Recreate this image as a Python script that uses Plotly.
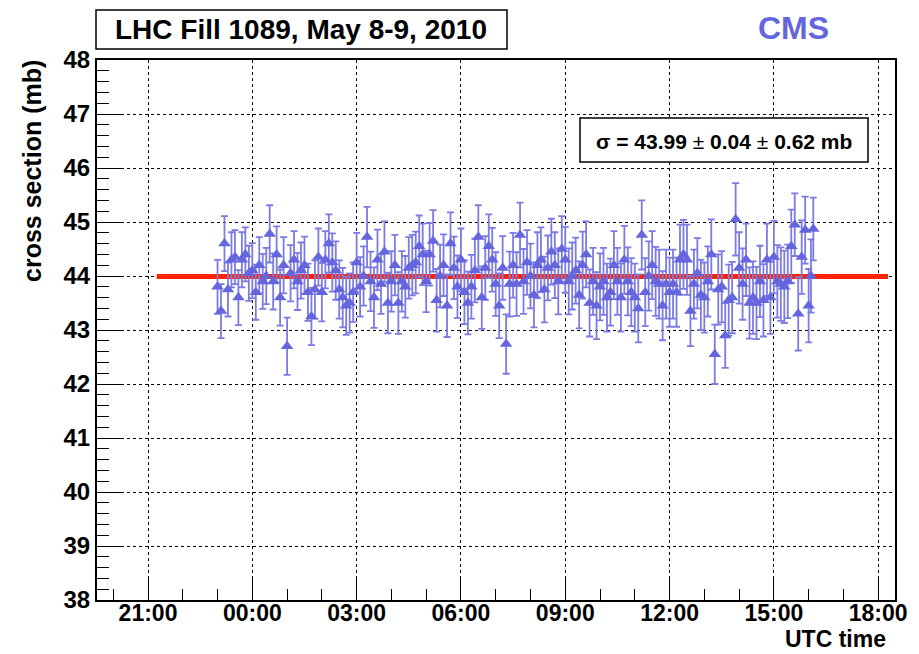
import plotly.graph_objects as go

# Hourly blocks of measurements (6-minute samples), 23:00 on 8 May to 16:08 on 9 May
hours = ["23", "00", "01", "02", "03", "04", "05", "06", "07", "08",
         "09", "10", "11", "12", "13", "14", "15", "16"]
minutes = ["00", "06", "12", "18", "24", "30", "36", "42", "48", "54"]
last_minutes = ["00", "04", "08"]

xsec_rows = [
    [43.80, 43.35, 44.60, 43.75, 44.30, 44.35, 43.60, 44.30, 44.40, 44.05],
    [44.10, 43.70, 44.20, 43.90, 44.00, 44.78, 43.90, 44.40, 43.60, 44.20],
    [42.70, 44.05, 44.30, 43.90, 44.10, 44.20, 43.70, 43.25, 43.75, 44.35],
    [43.70, 44.30, 44.60, 44.25, 44.10, 43.75, 43.60, 43.45, 43.50, 43.70],
    [44.25, 43.80, 44.00, 44.72, 43.90, 43.60, 44.30, 43.85, 44.45, 43.50],
    [43.90, 44.20, 43.50, 43.90, 43.80, 44.15, 44.20, 44.25, 44.55, 44.40],
    [43.90, 44.40, 44.65, 43.55, 44.00, 44.20, 43.45, 44.60, 44.15, 43.80],
    [44.30, 43.70, 43.50, 43.80, 44.10, 44.72, 43.60, 44.15, 44.55, 44.30],
    [43.85, 43.45, 44.15, 42.74, 43.85, 44.20, 43.85, 44.76, 43.90, 44.25],
    [44.00, 43.65, 44.20, 44.30, 43.75, 44.15, 44.45, 44.20, 43.90, 44.50],
    [44.30, 43.90, 44.00, 44.10, 43.65, 44.20, 44.40, 43.50, 43.90, 43.45],
    [43.80, 43.90, 43.60, 43.70, 44.20, 43.90, 43.60, 44.30, 43.90, 43.70],
    [43.60, 43.40, 44.76, 43.70, 44.00, 44.20, 43.90, 43.85, 43.45, 43.85],
    [43.70, 43.85, 43.70, 44.30, 44.40, 44.30, 43.35, 43.85, 44.05, 43.65],
    [43.60, 43.90, 44.40, 42.55, 43.75, 43.80, 42.90, 43.55, 43.60, 45.05],
    [44.15, 43.85, 44.30, 43.50, 43.60, 43.50, 43.90, 43.55, 44.30, 43.60],
    [44.35, 43.90, 43.85, 43.80, 43.90, 44.55, 44.95, 43.30, 44.35, 44.85],
    [43.45, 44.00, 44.87],
]

err_rows = [
    [0.50, 0.50, 0.51, 0.50, 0.51, 0.50, 0.51, 0.51, 0.50, 0.51],
    [0.51, 0.51, 0.52, 0.51, 0.52, 0.53, 0.52, 0.52, 0.52, 0.52],
    [0.53, 0.52, 0.53, 0.53, 0.52, 0.53, 0.53, 0.53, 0.54, 0.53],
    [0.54, 0.53, 0.54, 0.54, 0.54, 0.54, 0.55, 0.54, 0.55, 0.55],
    [0.55, 0.55, 0.55, 0.56, 0.55, 0.56, 0.56, 0.55, 0.56, 0.56],
    [0.56, 0.56, 0.57, 0.56, 0.57, 0.57, 0.56, 0.57, 0.57, 0.57],
    [0.57, 0.58, 0.57, 0.58, 0.58, 0.57, 0.58, 0.58, 0.58, 0.58],
    [0.58, 0.59, 0.58, 0.59, 0.59, 0.59, 0.58, 0.59, 0.59, 0.59],
    [0.59, 0.60, 0.59, 0.55, 0.60, 0.60, 0.59, 0.60, 0.60, 0.60],
    [0.60, 0.60, 0.61, 0.60, 0.61, 0.60, 0.61, 0.61, 0.61, 0.61],
    [0.61, 0.61, 0.62, 0.61, 0.62, 0.62, 0.61, 0.62, 0.62, 0.62],
    [0.62, 0.62, 0.63, 0.62, 0.63, 0.62, 0.63, 0.63, 0.63, 0.63],
    [0.63, 0.63, 0.64, 0.63, 0.64, 0.63, 0.64, 0.64, 0.64, 0.64],
    [0.64, 0.64, 0.64, 0.65, 0.64, 0.65, 0.65, 0.64, 0.65, 0.65],
    [0.65, 0.65, 0.65, 0.55, 0.65, 0.66, 0.60, 0.66, 0.66, 0.67],
    [0.66, 0.66, 0.67, 0.66, 0.67, 0.67, 0.66, 0.67, 0.67, 0.67],
    [0.67, 0.67, 0.68, 0.67, 0.68, 0.68, 0.58, 0.68, 0.68, 0.62],
    [0.68, 0.68, 0.58],
]

fit_value = 43.99
fit_start, fit_end = "2010-05-08 21:15", "2010-05-09 18:17"
x_range = ["2010-05-08 19:32", "2010-05-09 18:29"]

times, xsec, err = [], [], []
for hh, vals, errs in zip(hours, xsec_rows, err_rows):
    day = "2010-05-08" if hh == "23" else "2010-05-09"
    mins = minutes if len(vals) == len(minutes) else last_minutes
    for mm, v, e in zip(mins, vals, errs):
        times.append(f"{day} {hh}:{mm}")
        xsec.append(v)
        err.append(e)

W, H = 919, 654
L, R, T, B = 97, 24, 60, 54
PW, PH = W - L - R, H - T - B


def px(x):
    return (x - L) / PW


def py(y):
    return (H - B - y) / PH


FONT = "Liberation Sans, Arial, sans-serif"
BLUE = "#6565dd"

fig = go.Figure()

fig.add_trace(go.Scatter(
    x=[fit_start, fit_end], y=[fit_value, fit_value], mode="lines",
    line=dict(color="#ff2200", width=5), hoverinfo="skip", showlegend=False,
))

fig.add_trace(go.Scatter(
    x=times, y=xsec, mode="markers",
    marker=dict(symbol="triangle-up", size=11, color=BLUE, line=dict(width=0)),
    error_y=dict(type="data", array=err, visible=True, color="#7b7be4",
                 thickness=1.8, width=3.5),
    showlegend=False,
))

axis_common = dict(
    showline=True, linecolor="black", linewidth=2, mirror=True,
    ticks="inside", tickcolor="black", tickwidth=1,
    showgrid=True, gridcolor="black", gridwidth=1, griddash="dot",
    zeroline=False,
)

fig.update_xaxes(
    type="date", range=x_range, tickformat="%H:%M",
    tick0="2010-05-08 21:00", dtick=3 * 3600 * 1000, ticklen=24,
    ticklabelstandoff=-9,
    tickfont=dict(family=FONT, size=23, color="black", weight="bold"),
    minor=dict(ticks="inside", dtick=3600 * 1000, ticklen=11,
               tickcolor="black", showgrid=False),
    **axis_common,
)
fig.update_yaxes(
    range=[38, 48], dtick=1, ticklen=24,
    tickfont=dict(family=FONT, size=24, color="black", weight="bold"),
    minor=dict(ticks="inside", dtick=0.2, ticklen=12,
               tickcolor="black", showgrid=False),
    **axis_common,
)

shapes = [
    dict(type="rect", xref="paper", yref="paper",
         x0=px(96), x1=px(507), y0=py(49), y1=py(10),
         line=dict(color="black", width=1.5), fillcolor="white"),
    dict(type="rect", xref="paper", yref="paper",
         x0=px(580), x1=px(868), y0=py(162), y1=py(118),
         line=dict(color="black", width=1.5), fillcolor="white"),
]

annotations = [
    dict(text="<b>LHC Fill 1089, May 8-9, 2010</b>", xref="paper", yref="paper",
         x=px(301), y=py(29), showarrow=False, xanchor="center", yanchor="middle",
         font=dict(family=FONT, size=28, color="black")),
    dict(text="<b>CMS</b>", xref="paper", yref="paper",
         x=px(793), y=py(28), showarrow=False, xanchor="center", yanchor="middle",
         font=dict(family=FONT, size=32, color=BLUE)),
    dict(text="<b>σ = 43.99</b> ± <b>0.04</b> ± <b>0.62 mb</b>", xref="paper", yref="paper",
         x=px(724), y=py(141), showarrow=False, xanchor="center", yanchor="middle",
         font=dict(family=FONT, size=21, color="black")),
    dict(text="<b>cross section (mb)</b>", xref="paper", yref="paper",
         x=px(32), y=py(58), showarrow=False, xanchor="center", yanchor="top",
         textangle=-90, font=dict(family=FONT, size=25, color="black")),
    dict(text="<b>UTC time</b>", xref="paper", yref="paper",
         x=px(888), y=py(639), showarrow=False, xanchor="right", yanchor="middle",
         font=dict(family=FONT, size=23, color="black")),
]

fig.update_layout(
    width=W, height=H,
    margin=dict(l=L, r=R, t=T, b=B, pad=0),
    paper_bgcolor="white", plot_bgcolor="white",
    shapes=shapes, annotations=annotations,
    showlegend=False,
)

fig.write_html("out.html")
